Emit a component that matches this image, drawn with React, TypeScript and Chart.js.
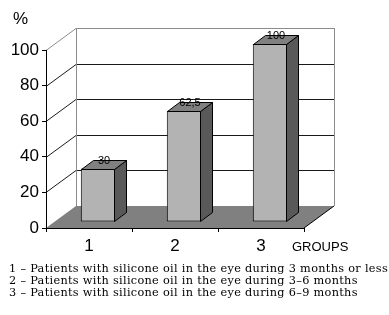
import React, { useEffect, useRef } from 'react';
import { Chart, registerables } from 'chart.js';

Chart.register(...registerables);

const categories = ['1', '2', '3'];
const values = [30, 62.5, 100];
const valueLabels = ['30', '62,5', '100'];
const yTicks = [0, 20, 40, 60, 80, 100];
const yAxisUnit = '%';
const xAxisName = 'GROUPS';
const footnotes = [
  '1 – Patients with silicone oil in the eye during 3 months or less',
  '2 – Patients with silicone oil in the eye during 3–6 months',
  '3 – Patients with silicone oil in the eye during 6–9 months',
];

// 3D geometry (pixels)
const WALL_DX = 30;
const WALL_DY = -22;
const BAR_SX = 9;
const BAR_SY = -6;
const BAR_DX = 12;
const BAR_DY = -9;

const SANS = '"Liberation Sans", Arial, sans-serif';

const threeD = {
  id: 'threeD',
  beforeDraw(chart: any) {
    const { ctx, chartArea: a, scales } = chart;
    const y = scales.y;
    const L = a.left;
    const R = a.right;
    const B = a.bottom;
    const T = a.top;
    ctx.save();
    // floor
    ctx.beginPath();
    ctx.moveTo(L, B);
    ctx.lineTo(R, B);
    ctx.lineTo(R + WALL_DX, B + WALL_DY);
    ctx.lineTo(L + WALL_DX, B + WALL_DY);
    ctx.closePath();
    ctx.fillStyle = '#808080';
    ctx.fill();
    // grid lines on side and back walls
    ctx.lineWidth = 1;
    const maxV = yTicks[yTicks.length - 1];
    for (const v of yTicks) {
      if (v === 0) continue;
      const py = Math.round(y.getPixelForValue(v)) + 0.5;
      ctx.strokeStyle = v === maxV ? '#8c8c8c' : '#1a1a1a';
      ctx.beginPath();
      ctx.moveTo(L, py);
      ctx.lineTo(L + WALL_DX, py + WALL_DY);
      ctx.lineTo(R + WALL_DX, py + WALL_DY);
      ctx.stroke();
    }
    // back wall edges
    ctx.strokeStyle = '#8c8c8c';
    const bl = Math.round(L + WALL_DX) + 0.5;
    const br = Math.round(R + WALL_DX) + 0.5;
    ctx.beginPath();
    ctx.moveTo(bl, T + WALL_DY);
    ctx.lineTo(bl, B + WALL_DY);
    ctx.moveTo(br, T + WALL_DY);
    ctx.lineTo(br, B + WALL_DY);
    ctx.stroke();
    // floor right edge
    ctx.strokeStyle = '#000';
    ctx.beginPath();
    ctx.moveTo(R, B);
    ctx.lineTo(R + WALL_DX, B + WALL_DY);
    ctx.stroke();
    ctx.restore();
  },
  beforeDatasetsDraw(chart: any) {
    chart.ctx.save();
    chart.ctx.translate(BAR_SX, BAR_SY);
  },
  afterDatasetsDraw(chart: any) {
    const ctx = chart.ctx;
    ctx.restore();
    const meta = chart.getDatasetMeta(0);
    ctx.save();
    ctx.lineWidth = 1;
    ctx.strokeStyle = '#000';
    meta.data.forEach((el: any, i: number) => {
      const { x, y, base, width } = el.getProps(['x', 'y', 'base', 'width'], true);
      const left = Math.round(x - width / 2 + BAR_SX) + 0.5;
      const right = Math.round(x + width / 2 + BAR_SX) - 0.5;
      const top = Math.round(y + BAR_SY) + 0.5;
      const bottom = Math.round(base + BAR_SY) - 0.5;
      // side face
      ctx.beginPath();
      ctx.moveTo(right, top);
      ctx.lineTo(right + BAR_DX, top + BAR_DY);
      ctx.lineTo(right + BAR_DX, bottom + BAR_DY);
      ctx.lineTo(right, bottom);
      ctx.closePath();
      ctx.fillStyle = '#595959';
      ctx.fill();
      ctx.stroke();
      // top face
      ctx.beginPath();
      ctx.moveTo(left, top);
      ctx.lineTo(left + BAR_DX, top + BAR_DY);
      ctx.lineTo(right + BAR_DX, top + BAR_DY);
      ctx.lineTo(right, top);
      ctx.closePath();
      ctx.fillStyle = '#808080';
      ctx.fill();
      ctx.stroke();
      // value label
      ctx.fillStyle = '#000';
      ctx.font = `11px ${SANS}`;
      ctx.textAlign = 'center';
      ctx.textBaseline = 'middle';
      ctx.fillText(valueLabels[i], (left + right) / 2 + 6, top + BAR_DY);
    });
    ctx.restore();
  },
  afterDraw(chart: any) {
    const { ctx, chartArea: a } = chart;
    ctx.save();
    ctx.fillStyle = '#000';
    ctx.textAlign = 'left';
    ctx.textBaseline = 'alphabetic';
    ctx.font = `17px ${SANS}`;
    ctx.fillText(yAxisUnit, 13, 24);
    ctx.font = `13px ${SANS}`;
    ctx.fillText(xAxisName, a.right - 12, 251);
    ctx.restore();
  },
};

export default function App() {
  const ref = useRef<HTMLCanvasElement | null>(null);
  useEffect(() => {
    if (!ref.current) return;
    const chart = new Chart(ref.current, {
      type: 'bar',
      data: {
        labels: categories,
        datasets: [
          {
            data: values,
            backgroundColor: '#b3b3b3',
            borderColor: '#000',
            borderWidth: 1,
            borderSkipped: false,
            barPercentage: 0.4,
            categoryPercentage: 1,
          },
        ],
      },
      options: {
        responsive: false,
        animation: false,
        devicePixelRatio: 1,
        layout: { padding: { top: 50, right: 85, bottom: 57, left: 0 } },
        plugins: {
          legend: { display: false },
          tooltip: { enabled: false },
        },
        scales: {
          x: {
            grid: { drawOnChartArea: false, color: '#000', tickLength: 4, offset: true },
            border: { color: '#000', width: 1 },
            ticks: { color: '#000', font: { family: SANS, size: 17 }, padding: 4, maxRotation: 0 },
            afterFit: (s: any) => {
              s.height = 30;
            },
          },
          y: {
            min: 0,
            max: 100,
            afterBuildTicks: (s: any) => {
              s.ticks = yTicks.map((v) => ({ value: v }));
            },
            grid: { drawOnChartArea: false, color: '#000', tickLength: 4 },
            border: { color: '#000', width: 1 },
            ticks: { color: '#000', font: { family: SANS, size: 17 }, padding: 3 },
            afterFit: (s: any) => {
              s.width = 46;
            },
          },
        },
      },
      plugins: [threeD],
    } as any);
    return () => chart.destroy();
  }, []);

  return (
    <div style={{ position: 'fixed', left: 0, top: 0, width: 389, height: 315, background: '#fff' }}>
      <canvas ref={ref} width={389} height={315} style={{ position: 'absolute', left: 0, top: 0 }} />
      <div
        style={{
          position: 'absolute',
          left: 9,
          top: 263,
          fontFamily: '"DejaVu Serif", serif',
          fontSize: 11.3,
          letterSpacing: '0.3px',
          lineHeight: '12px',
          color: '#000',
          whiteSpace: 'nowrap',
        }}
      >
        {footnotes.map((t) => (
          <div key={t}>{t}</div>
        ))}
      </div>
    </div>
  );
}
